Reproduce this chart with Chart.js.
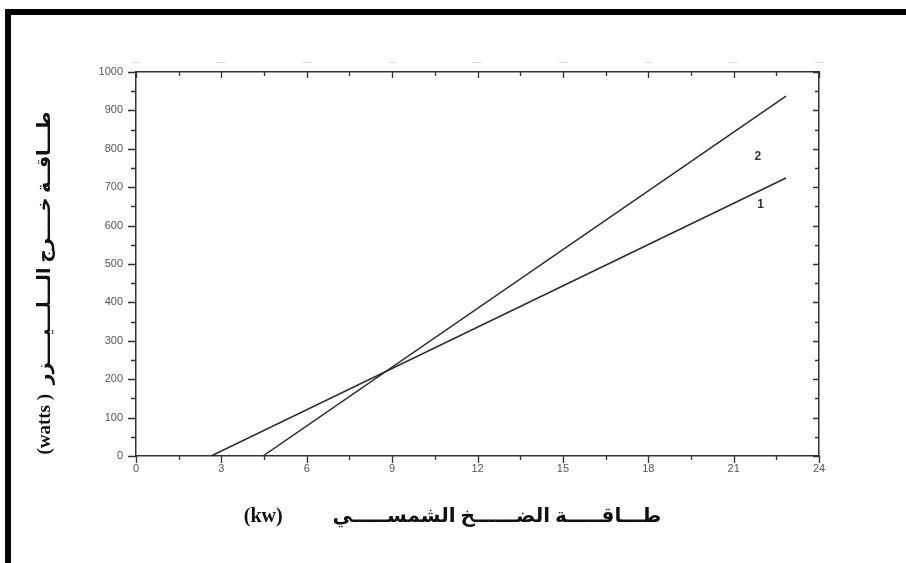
<!DOCTYPE html>
<html>
<head>
<meta charset="utf-8">
<script src="https://cdn.jsdelivr.net/npm/chart.js@4"></script>
<style>
  html, body { margin: 0; padding: 0; background: #fff; overflow: hidden; }
  #wrap { position: relative; width: 906px; height: 563px; }
  #frame {
    position: absolute; left: 5px; top: 9px; width: 1000px; height: 1000px;
    border-top: 6px solid #000; border-left: 6px solid #000;
    pointer-events: none;
  }
</style>
</head>
<body>
<div id="wrap">
  <canvas id="chart"></canvas>
  <div id="frame"></div>
</div>
<script>
// pump power (kw) and laser output (watts), two curves
const pumpPower1 = [2.64, 22.84];
const outputPower1 = [0, 724];
const pumpPower2 = [4.46, 22.84];
const outputPower2 = [0, 937];

// curve numbers and where they sit
const curveLabels = ['1', '2'];
const curveLabelX = [21.95, 21.85];
const curveLabelY = [655, 780];

const xTicks = [0, 3, 6, 9, 12, 15, 18, 21, 24];
const yTicks = [0, 100, 200, 300, 400, 500, 600, 700, 800, 900, 1000];

const xTitle = '(kw)          طـــاقـــــة الضــــــخ الشمســـــي          ';
const yTitle = '(watts )  طـــاقــة خــــرج الـــلـــيــــزر        ';

function toPoints(xs, ys) {
  return xs.map((x, i) => ({ x: x, y: ys[i] }));
}

// tick marks of different lengths on all four sides
const tickMarks = {
  id: 'tickMarks',
  afterDraw(chart) {
    const ctx = chart.ctx;
    const a = chart.chartArea;
    const sx = chart.scales.x, sy = chart.scales.y;
    ctx.save();
    ctx.strokeStyle = '#333';
    ctx.lineWidth = 1.3;
    ctx.beginPath();
    for (let v = 0; v <= 24; v += 1.5) {
      const px = Math.round(sx.getPixelForValue(v)) + 0.5;
      const major = v % 3 === 0;
      ctx.moveTo(px, a.bottom);
      ctx.lineTo(px, a.bottom + (major ? 7 : 4));
      ctx.moveTo(px, a.top);
      ctx.lineTo(px, a.top + (major ? 6 : 4));
    }
    for (let v = 0; v <= 1000; v += 50) {
      const py = Math.round(sy.getPixelForValue(v)) + 0.5;
      const major = v % 100 === 0;
      ctx.moveTo(a.left, py);
      ctx.lineTo(a.left - (major ? 8 : 5), py);
      ctx.moveTo(a.right, py);
      ctx.lineTo(a.right - (major ? 6 : 4), py);
    }
    ctx.stroke();

    ctx.fillStyle = '#333';
    ctx.font = 'bold 12px "Liberation Sans", Arial, sans-serif';
    ctx.textAlign = 'center';
    ctx.textBaseline = 'middle';
    curveLabels.forEach((t, i) => {
      ctx.fillText(t, sx.getPixelForValue(curveLabelX[i]), sy.getPixelForValue(curveLabelY[i]));
    });
    ctx.restore();
  }
};

function fixSize(prop, size) {
  return function (scale) { scale[prop] = size; };
}

const tickFont = { family: '"Liberation Sans", Arial, sans-serif', size: 11 };
const titleFont = { family: '"Liberation Serif", "DejaVu Sans", serif', size: 19, weight: 'bold' };

new Chart(document.getElementById('chart'), {
  type: 'scatter',
  data: {
    datasets: [
      {
        label: '1',
        data: toPoints(pumpPower1, outputPower1),
        showLine: true,
        borderColor: '#2a2a2a',
        borderWidth: 1.5,
        pointRadius: 0
      },
      {
        label: '2',
        data: toPoints(pumpPower2, outputPower2),
        showLine: true,
        borderColor: '#2a2a2a',
        borderWidth: 1.5,
        pointRadius: 0
      }
    ]
  },
  options: {
    responsive: true,
    maintainAspectRatio: false,
    animation: false,
    layout: { padding: 0 },
    plugins: {
      legend: { display: false },
      tooltip: { enabled: false }
    },
    scales: {
      x: {
        type: 'linear',
        position: 'bottom',
        min: 0,
        max: 24,
        afterBuildTicks: s => { s.ticks = xTicks.map(v => ({ value: v })); },
        afterFit: fixSize('height', 107),
        ticks: { color: '#555', font: tickFont, padding: 6, maxRotation: 0, callback: v => String(v) },
        grid: { display: false, drawTicks: false },
        border: { display: true, color: '#333', width: 1.5 },
        title: {
          display: true,
          text: xTitle,
          color: '#111',
          font: { family: '"Liberation Serif", "DejaVu Sans", serif', size: 20, weight: 'bold' },
          padding: { top: 0, bottom: 34 }
        }
      },
      x2: {
        type: 'linear',
        position: 'top',
        min: 0,
        max: 24,
        afterBuildTicks: s => { s.ticks = xTicks.map(v => ({ value: v })); },
        afterFit: fixSize('height', 72),
        ticks: { color: '#bbb', font: { size: 8 }, padding: 5, callback: () => '—' },
        grid: { display: false, drawTicks: false },
        border: { display: true, color: '#333', width: 1.5 }
      },
      y: {
        type: 'linear',
        position: 'left',
        min: 0,
        max: 1000,
        afterBuildTicks: s => { s.ticks = yTicks.map(v => ({ value: v })); },
        afterFit: fixSize('width', 136),
        ticks: { color: '#555', font: tickFont, padding: 13, callback: v => String(v) },
        grid: { display: false, drawTicks: false },
        border: { display: true, color: '#333', width: 1.5 },
        title: {
          display: true,
          text: yTitle,
          color: '#111',
          font: titleFont,
          padding: { top: 34, bottom: 0 }
        }
      },
      y2: {
        type: 'linear',
        position: 'right',
        min: 0,
        max: 1000,
        afterFit: fixSize('width', 87),
        ticks: { display: false },
        grid: { display: false, drawTicks: false },
        border: { display: true, color: '#333', width: 1.5 }
      }
    }
  },
  plugins: [tickMarks]
});
</script>
</body>
</html>
